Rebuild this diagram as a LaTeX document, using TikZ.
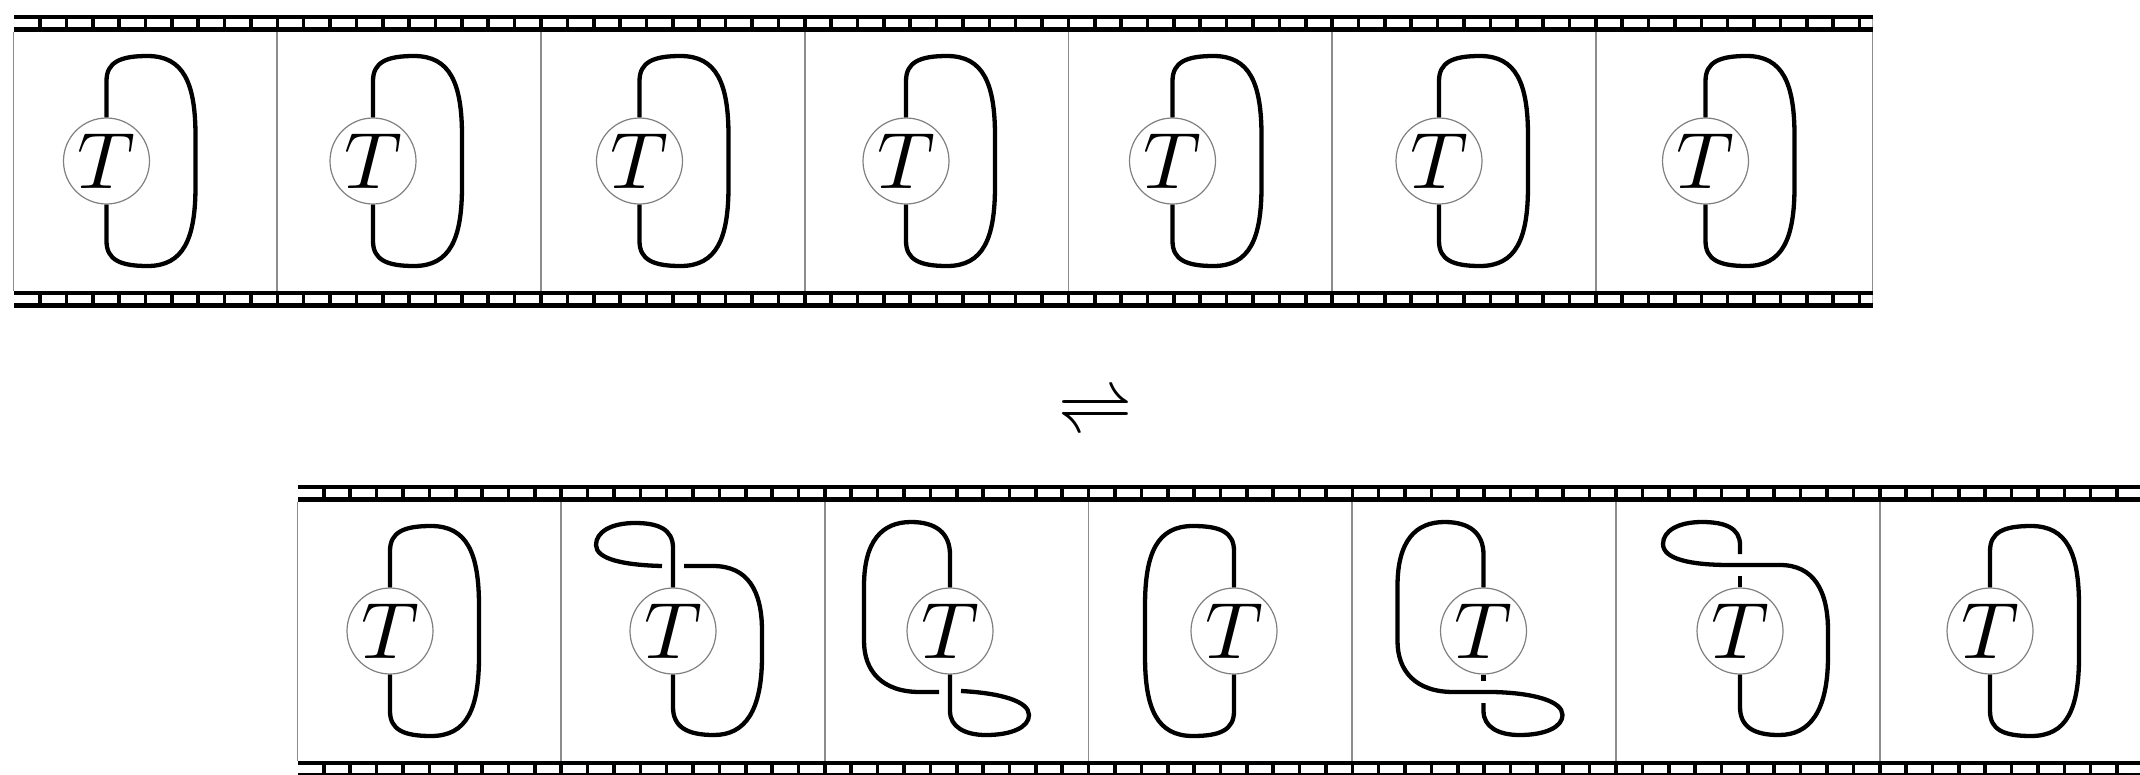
\documentclass[tikz,border=0pt]{standalone}
\usepackage{graphicx}
\newcommand\filmband[3]{% x0, x1, ytop
  \fill[black] ({#1},{#3}) rectangle ({#2},{#3+17});
  \begin{scope}
    \clip ({#1},{#3}) rectangle ({#2},{#3+17});
    \fill[white] ({#1},{#3+4.2}) rectangle ({#1+3},{#3+12.6});
    \foreach \k in {0,...,75}{
      \fill[white] ({#1+26.37*\k+1.8},{#3+4.2}) rectangle ({#1+26.37*(\k+1)-1.8},{#3+12.6});
    }
  \end{scope}}
\newcommand\bigT{\scalebox{8}{$T$}}
\newcommand\eqharp{\scalebox{7.4}{\rlap{\raisebox{0.75pt}{$\rightharpoonup$}}\raisebox{-0.75pt}{$\leftharpoondown$}}}
\begin{document}
\begin{tikzpicture}[x=1pt,y=-1pt,
  strand/.style={line width=4.3pt, line join=round},
  tbox/.style={circle, draw=black!50, line width=1.2pt, minimum size=86pt, inner sep=0pt},
  divider/.style={draw=black!45, line width=1.7pt},
  eqsym/.style={inner sep=0pt},
]
\useasboundingbox (0,0) rectangle (2140,774);
\clip (0,0) rectangle (2140,774);

% ---------- top film strip ----------
\filmband{13.6}{1872.5}{14.5}
\filmband{13.6}{1872.5}{290.5}
\foreach \k in {0,...,6}{
  \draw[divider] ({13.6+263.7*\k},31.5) -- ({13.6+263.7*\k},290.5);
}
\draw[divider] (1872.5,31.5) -- (1872.5,290.5);

% ---------- bottom film strip ----------
\filmband{297.5}{2160}{484.5}
\filmband{297.5}{2160}{760.5}
\foreach \k in {0,...,6}{
  \draw[divider] ({297.5+263.7*\k},501.5) -- ({297.5+263.7*\k},760.5);
}

% ---------- top row: seven identical frames ----------
\foreach \k in {1,...,7}{
  \node[tbox] (a\k) at ({106.5+266.5*(\k-1)},161) {\bigT};
  \begin{scope}[shift={(a\k.center)}]
    \draw[strand] (a\k.north) -- (0,-80) .. controls (0,-99) and (14,-105) .. (41,-105)
      .. controls (77,-105) and (89,-78) .. (89,-25) -- (89,25)
      .. controls (89,78) and (77,105) .. (41,105)
      .. controls (14,105) and (0,99) .. (0,80) -- (a\k.south);
  \end{scope}
}

% ---------- equilibrium symbol ----------
\node[eqsym, anchor=base] (eq) at (1095,426.5) {\eqharp};

% ---------- bottom row ----------
\node[tbox] (b1) at (390,631) {\bigT};
\node[tbox] (b2) at (673,631) {\bigT};
\node[tbox] (b3) at (950,631) {\bigT};
\node[tbox] (b4) at (1234,631) {\bigT};
\node[tbox] (b5) at (1483.5,631) {\bigT};
\node[tbox] (b6) at (1740,631) {\bigT};
\node[tbox] (b7) at (1990,631) {\bigT};

% frame 1: plain loop on the right
\begin{scope}[shift={(b1.center)}]
  \draw[strand] (b1.north) -- (0,-80) .. controls (0,-99) and (14,-105) .. (41,-105)
    .. controls (77,-105) and (89,-78) .. (89,-25) -- (89,25)
    .. controls (89,78) and (77,105) .. (41,105)
    .. controls (14,105) and (0,99) .. (0,80) -- (b1.south);
\end{scope}

% frame 2: curl at top left, vertical strand over
\begin{scope}[shift={(b2.center)}]
  \draw[strand] (b2.north) -- (0,-83) .. controls (0,-102) and (-15,-108) .. (-38,-108)
    .. controls (-62,-108) and (-77,-99) .. (-77,-86)
    .. controls (-77,-72) and (-50,-66) .. (-11,-65);
  \draw[strand] (11,-65) -- (40,-65) .. controls (75,-65) and (89,-40) .. (89,0) -- (89,25)
    .. controls (89,80) and (72,104) .. (41,104)
    .. controls (14,104) and (0,96) .. (0,76) -- (b2.south);
\end{scope}

% frame 3: curl at bottom right, vertical strand over
\begin{scope}[shift={(b3.center)}]
  \draw[strand] (b3.south) -- (0,80) .. controls (0,96) and (15,104) .. (36,104)
    .. controls (62,104) and (79,96) .. (79,84)
    .. controls (79,70) and (50,62) .. (11,60);
  \draw[strand] (-11,61) -- (-30,61) .. controls (-68,61) and (-86,40) .. (-86,10) -- (-86,-45)
    .. controls (-86,-90) and (-68,-109) .. (-39,-109)
    .. controls (-14,-109) and (0,-98) .. (0,-76) -- (b3.north);
\end{scope}

% frame 4: plain loop on the left
\begin{scope}[shift={(b4.center)}]
  \draw[strand] (b4.north) -- (0,-80) .. controls (0,-99) and (-14,-105) .. (-41,-105)
    .. controls (-77,-105) and (-89,-78) .. (-89,-25) -- (-89,25)
    .. controls (-89,78) and (-77,105) .. (-41,105)
    .. controls (-14,105) and (0,99) .. (0,80) -- (b4.south);
\end{scope}

% frame 5: curl at bottom right, horizontal strand over
\begin{scope}[shift={(b5.center)}]
  \draw[strand] (b5.south) -- (0,50);
  \draw[strand] (b5.north) -- (0,-76) .. controls (0,-98) and (-14,-109) .. (-39,-109)
    .. controls (-68,-109) and (-86,-90) .. (-86,-45) -- (-86,10)
    .. controls (-86,40) and (-68,61) .. (-30,61) -- (10,61)
    .. controls (50,62) and (79,70) .. (79,84)
    .. controls (79,96) and (62,104) .. (36,104)
    .. controls (15,104) and (0,96) .. (0,80) -- (0,72);
\end{scope}

% frame 6: curl at top left, horizontal strand over
\begin{scope}[shift={(b6.center)}]
  \draw[strand] (b6.north) -- (0,-55);
  \draw[strand] (0,-77) -- (0,-86) .. controls (0,-103) and (-15,-109) .. (-38,-109)
    .. controls (-62,-109) and (-77,-100) .. (-77,-87)
    .. controls (-77,-72) and (-50,-66) .. (-10,-66) -- (40,-66)
    .. controls (74,-66) and (88,-40) .. (88,0) -- (88,25)
    .. controls (88,80) and (70,104) .. (39,104)
    .. controls (14,104) and (0,96) .. (0,76) -- (b6.south);
\end{scope}

% frame 7: plain loop on the right
\begin{scope}[shift={(b7.center)}]
  \draw[strand] (b7.north) -- (0,-80) .. controls (0,-99) and (14,-105) .. (41,-105)
    .. controls (77,-105) and (89,-78) .. (89,-25) -- (89,25)
    .. controls (89,78) and (77,105) .. (41,105)
    .. controls (14,105) and (0,99) .. (0,80) -- (b7.south);
\end{scope}
\end{tikzpicture}
\end{document}
